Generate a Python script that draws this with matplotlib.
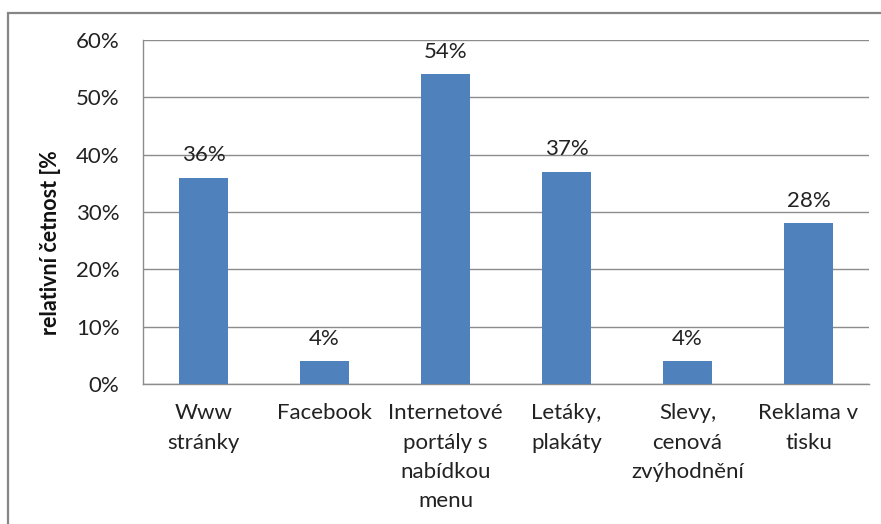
import matplotlib
matplotlib.use('Agg')
import matplotlib.pyplot as plt
from matplotlib.patches import Rectangle

categories = ["Www\nstránky", "Facebook", "Internetové\nportály s\nnabídkou\nmenu",
              "Letáky,\nplakáty", "Slevy,\ncenová\nzvýhodnění", "Reklama v\ntisku"]
values = [36, 4, 54, 37, 4, 28]
yticks = [0, 10, 20, 30, 40, 50, 60]

plt.rcParams['font.family'] = ['Lato', 'DejaVu Sans']
FS = 16

W, H = 881, 524
fig = plt.figure(figsize=(W / 100, H / 100), dpi=100)

# outer chart frame (runs off right and bottom edge)
fig.patches.append(Rectangle((8 / W, -0.05), 1.1, (H - 13) / H + 0.05,
                             transform=fig.transFigure, fill=False,
                             edgecolor='#868686', linewidth=1.6))

ax = fig.add_axes([143 / W, 1 - 384 / H, (869 - 143) / W, (384 - 40) / H])
x = range(len(values))
ax.bar(x, values, width=0.4, color='#4F81BD', zorder=3)
ax.set_xlim(-0.5, len(values) - 0.5)
ax.set_ylim(0, 60)
ax.set_yticks(yticks)
ax.set_yticklabels([f"{t}%" for t in yticks], fontsize=FS, color='#222222')
ax.set_xticks(list(x))
ax.set_xticklabels(categories, fontsize=FS, color='#222222', linespacing=1.57, va='top')
ax.tick_params(length=0)
ax.tick_params(axis='y', pad=17)
ax.tick_params(axis='x', pad=14)
ax.grid(axis='y', color='#8c8c8c', linewidth=1)
for s in ['top', 'right']:
    ax.spines[s].set_visible(False)
for s in ['left', 'bottom']:
    ax.spines[s].set_color('#8c8c8c')
    ax.spines[s].set_linewidth(1)

for i, v in enumerate(values):
    ax.annotate(f"{v}%", (i, v), xytext=(0, 9), textcoords='offset points',
                ha='center', va='bottom', fontsize=FS, color='#222222')

fig.text(51 / W, 1 - 243 / H, "relativní četnost [%", rotation=90, ha='center', va='center',
         fontsize=15.5, fontweight='bold', color='#111111')

fig.savefig('out.png', dpi=100)
